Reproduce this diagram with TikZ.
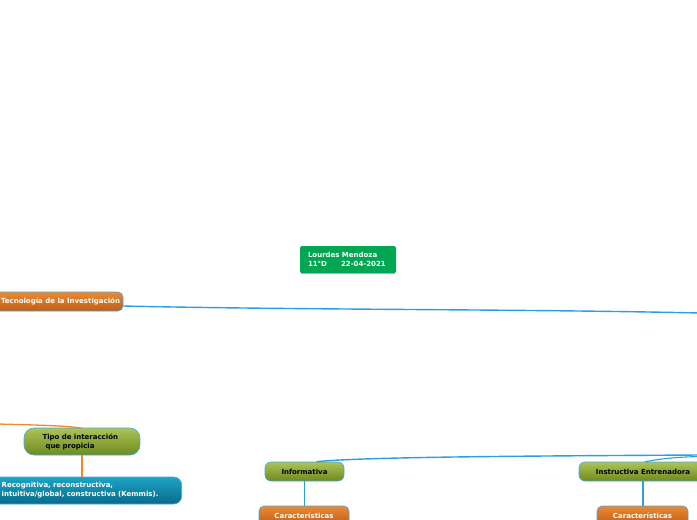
\documentclass[tikz,border=0pt]{standalone}
\usepackage{fontspec}
\setmainfont{DejaVu Sans}
\usepackage{tikz}
\usetikzlibrary{positioning, calc}
\definecolor{link_blue}{HTML}{2B9FE0}
\definecolor{edge_blue}{HTML}{45A8E2}
\definecolor{link_orange}{HTML}{F08A2C}
\definecolor{olive_top}{HTML}{ADC457}
\definecolor{olive_bot}{HTML}{6E8A1E}
\definecolor{orange_top}{HTML}{EA8A33}
\definecolor{orange_bot}{HTML}{BF5E17}
\definecolor{teal_top}{HTML}{1CA4C6}
\definecolor{teal_bot}{HTML}{0A6A89}
\definecolor{name_green}{HTML}{00A651}

\begin{document}
\begin{tikzpicture}[
                x=1pt, y=-1pt,
                every node/.style={font=\bfseries\fontsize{7}{9}\selectfont},
                topic/.style={rectangle, draw=edge_blue, line width=0.6pt, rounded corners=6pt, inner sep=2pt},
                olive/.style={topic, top color=olive_top, bottom color=olive_bot, text=black},
                orange/.style={topic, top color=orange_top, bottom color=orange_bot, text=white, rounded corners=5pt},
                teal/.style={topic, top color=teal_top, bottom color=teal_bot, text=white, rounded corners=8pt},
                link/.style={line width=1.4pt, draw=link_blue},
                olink/.style={line width=1.3pt, draw=link_orange}
            ]
                \useasboundingbox (0,0) rectangle (697,520);
                \clip (0,0) rectangle (697,520);

                % Nodes
                \node (author) [rectangle, fill=name_green, text=white, rounded corners=1.5pt, minimum width=96pt, minimum height=27pt, text width=80pt, align=left] at (348,259.5) {Lourdes Mendoza\\11°D\hspace{14pt}22-04-2021};
                \draw [line width=1pt, draw=edge_blue!70] ($(author.south west)+(1,0)$) -- ($(author.south east)+(-1,0)$);
                \node (tecno) [orange, minimum width=134pt, minimum height=19pt] at (56,301.5) {\hspace*{9pt}Tecnología de la Investigación};
                \node (tipo) [olive, minimum width=116pt, minimum height=27pt, rounded corners=10pt, text width=79pt, align=left] at (82,441.5) {Tipo de interacción\\\hspace{3pt}que propicia};
                \node (kemmis) [teal, anchor=east, minimum height=27pt, text width=190pt, align=left] at (182,490.5) {\hspace*{12pt}Recognitiva, reconstructiva,\\\hspace*{12pt}intuitiva/global, constructiva (Kemmis).};
                \node (info) [olive, minimum width=79pt, minimum height=19pt] at (304.5,471.5) {Informativa};
                \node (instr) [olive, minimum width=128pt, minimum height=19pt] at (643,471.5) {Instructiva Entrenadora};
                \node (carac1) [orange, minimum width=90pt, minimum height=19pt] at (304,515.5) {Características};
                \node (carac2) [orange, minimum width=91pt, minimum height=19pt] at (642.5,515.5) {Características};

                % Free ends
                \coordinate (right_a) at (700,313);
                \coordinate (right_b) at (700,455);
                \coordinate (right_c) at (700,456.5);
                \coordinate (left_a) at (-3,424);

                % Arrows
                \begin{scope}[on background layer/.try]
                \draw [link] ($(tecno.east)+(0,4.5)$) .. controls (300,310) and (520,309) .. (right_a);
                \draw [link] ($(info.north)+(12,0)$) .. controls (360,457) and (520,456) .. (right_b);
                \draw [link, line width=1.1pt] ($(instr.north)+(2,0)$) .. controls (665,458) and (680,457) .. (right_c);
                \draw [olink] (left_a) .. controls (40,425) and (70,426) .. ($(tipo.north)+(0,0.5)$);
                \draw [olink] (tipo.south) -- (tipo.south |- kemmis.north);
                \draw [link] (info.south) -- (info.south |- carac1.north);
                \draw [link] (instr.south) -- (instr.south |- carac2.north);
                \end{scope}
            \end{tikzpicture}
\end{document}
